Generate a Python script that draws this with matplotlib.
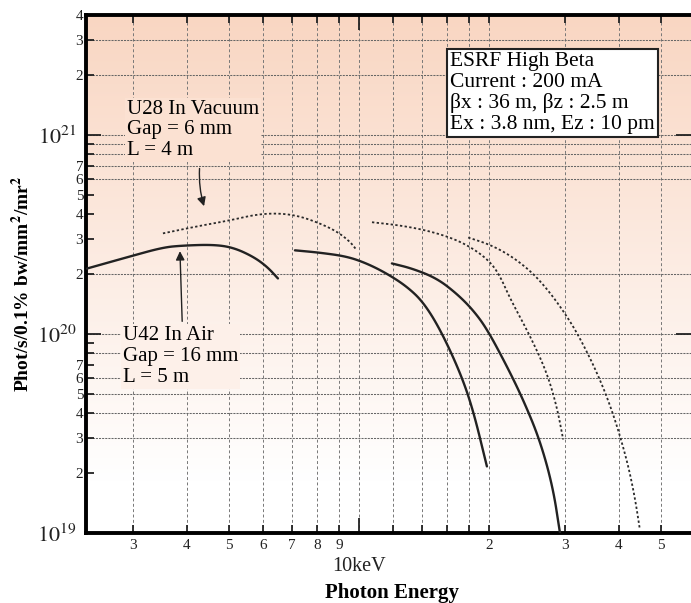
import matplotlib
matplotlib.use("Agg")
import matplotlib.pyplot as plt
from matplotlib.ticker import FixedLocator, FixedFormatter
from matplotlib.colors import LinearSegmentedColormap
import numpy as np

plt.rcParams['font.family'] = ['Liberation Serif', 'DejaVu Serif']
plt.rcParams['mathtext.fontset'] = 'stix'

# photon energy (keV) / brilliance (phot/s/0.1%bw/mm2/mr2)
u42_h1_e = [2.346, 2.951, 3.518, 3.914, 4.593, 5.108, 5.683, 6.124, 6.494]
u42_h1_b = [2.13e20, 2.45e20, 2.72e20, 2.78e20, 2.81e20, 2.72e20, 2.45e20, 2.18e20, 1.90e20]
u42_h3_e = [7.11, 8.124, 9.38, 10.43, 11.61, 12.91, 14.07, 15.4, 17.14, 18.36, 19.78]
u42_h3_b = [2.63e20, 2.56e20, 2.45e20, 2.26e20, 2.01e20, 1.73e20, 1.45e20, 1.06e20,
            6.43e19, 4.18e19, 2.16e19]
u42_h5_e = [11.92, 13.3, 15.16, 16.86, 18.36, 19.78, 22.0, 23.97, 26.2, 28.1, 29.2]
u42_h5_b = [2.26e20, 2.13e20, 1.90e20, 1.59e20, 1.32e20, 1.06e20, 6.89e19, 4.70e19,
            2.95e19, 1.71e19, 1.00e19]

u28_h1_e = [3.518, 4.217, 5.027, 5.807, 6.56, 7.302, 8.124, 8.893, 9.532, 9.89]
u28_h1_b = [3.20e20, 3.47e20, 3.72e20, 3.99e20, 4.04e20, 3.90e20, 3.59e20, 3.27e20,
            2.91e20, 2.63e20]
u28_h3_e = [10.72, 12.44, 14.37, 16.51, 18.36, 20.1, 21.2, 22.4, 24.9, 27.2, 28.7, 29.7]
u28_h3_b = [3.64e20, 3.51e20, 3.31e20, 3.02e20, 2.69e20, 2.31e20, 1.96e20, 1.50e20,
            9.77e19, 6.43e19, 4.33e19, 2.95e19]
u28_h5_e = [17.9, 20.1, 22.4, 24.9, 26.96, 29.2, 31.96, 35.56, 38.7, 41.7, 43.5, 44.7]
u28_h5_b = [3.05e20, 2.81e20, 2.48e20, 2.08e20, 1.73e20, 1.38e20, 1.02e20, 6.43e19,
            4.04e19, 2.34e19, 1.52e19, 1.04e19]

x_minor = [3, 4, 5, 6, 7, 8, 9, 12, 14, 16, 18, 20, 30, 40, 50]
x_minor_labels = ['3', '4', '5', '6', '7', '8', '9', '', '', '', '', '2', '3', '4', '5']
y_major = [1e19, 1e20, 1e21]
y_major_labels = [r'$10^{19}$', r'$10^{20}$', r'$10^{21}$']

# grid lines visible in the original scan
x_grid = [3, 4, 5, 6, 7, 8, 9, 10, 12, 14, 16, 18, 20, 30, 40, 50]
y_grid = [3e19, 4e19, 5e19, 6e19, 8e19, 1e20, 2e20, 6e20, 7e20, 8e20, 9e20, 1e21, 2e21, 3e21]

box_text = ("ESRF High Beta\nCurrent : 200 mA\n"
            "βx : 36 m, βz : 2.5 m\nEx : 3.8 nm, Ez : 10 pm")


def rounded(xs, ys, passes=3):
    # corner cutting in log space so the drawn line is smooth
    p = np.column_stack([np.log10(xs), np.log10(ys)])
    for _ in range(passes):
        q = 0.75 * p[:-1] + 0.25 * p[1:]
        r = 0.25 * p[:-1] + 0.75 * p[1:]
        mid = np.empty((2 * len(q), 2))
        mid[0::2], mid[1::2] = q, r
        p = np.vstack([p[:1], mid, p[-1:]])
    return 10**p[:, 0], 10**p[:, 1]


fig = plt.figure(figsize=(6.91, 6.03), dpi=100)
ax = fig.add_axes([0.1245, 0.1161, 0.8755, 0.859])
ax.set_xscale('log')
ax.set_yscale('log')
ax.set_xlim(2.335, 58.7)
ax.set_ylim(1e19, 4e21)

# peach-to-white background
cmap = LinearSegmentedColormap.from_list('bg', [(0, '#ffffff'), (0.1, '#ffffff'),
                                                (1, '#f9d6c2')])
grad = np.linspace(0, 1, 256).reshape(-1, 1)
ax.imshow(grad, extent=[0, 1, 0, 1], transform=ax.transAxes, cmap=cmap,
          aspect='auto', origin='lower', zorder=0)

for gx in x_grid:
    ax.axvline(gx, color='#777777', ls=(0, (3, 2.5)), lw=0.7, zorder=1)
for gy in y_grid:
    ax.axhline(gy, color='#666666', ls=(0, (2, 1)), lw=0.75, zorder=1)

for xs, ys in [(u42_h1_e, u42_h1_b), (u42_h3_e, u42_h3_b), (u42_h5_e, u42_h5_b)]:
    sx, sy = rounded(xs, ys)
    ax.plot(sx, sy, color='#222222', lw=1.7, zorder=3, solid_capstyle='round')
for xs, ys in [(u28_h1_e, u28_h1_b), (u28_h3_e, u28_h3_b), (u28_h5_e, u28_h5_b)]:
    sx, sy = rounded(xs, ys)
    ax.plot(sx, sy, color='#2a2a2a', lw=1.3, ls=(0, (1.3, 1.3)), zorder=3)

# ticks
ax.xaxis.set_major_locator(FixedLocator([10]))
ax.xaxis.set_major_formatter(FixedFormatter(['10keV']))
ax.xaxis.set_minor_locator(FixedLocator(x_minor))
ax.xaxis.set_minor_formatter(FixedFormatter(x_minor_labels))
y_minor = [m * 10.0**e for e in (19, 20, 21) for m in range(2, 10)]
y_minor_lab = [str(m) if m <= 7 else '' for e in (19, 20, 21) for m in range(2, 10)]
ax.yaxis.set_major_locator(FixedLocator(y_major))
ax.yaxis.set_major_formatter(FixedFormatter(y_major_labels))
ax.yaxis.set_minor_locator(FixedLocator(y_minor))
ax.yaxis.set_minor_formatter(FixedFormatter(y_minor_lab))

ax.tick_params(which='both', direction='in', top=True, width=1.3,
               labelsize=11, colors='#222222')
ax.tick_params(which='major', length=11)
ax.tick_params(which='minor', length=6)
ax.tick_params(axis='y', which='major', right=True, labelsize=16, pad=7)
ax.tick_params(axis='y', which='minor', right=False, pad=2)
ax.tick_params(axis='x', which='major', pad=17, labelsize=14.5)
ax.tick_params(axis='x', which='minor', pad=4)

for s in ['left', 'bottom', 'top']:
    ax.spines[s].set_linewidth(2.8)
ax.spines['right'].set_visible(False)

ax.set_xlabel('Photon Energy', fontsize=15, fontweight='bold')
ax.xaxis.label.set_va('center')
ax.xaxis.set_label_coords(0.505, -0.116)
ax.set_ylabel('Phot/s/0.1% bw/mm$^\\mathbf{2}$/mr$^\\mathbf{2}$', fontsize=14,
              fontweight='bold')
ax.yaxis.label.set_va('center')
ax.yaxis.set_label_coords(-0.106, 0.48)

ax.text(2.90, 1.50e21, 'U28 In Vacuum\nGap = 6 mm\nL = 4 m', fontsize=15,
        va='top', ha='left', linespacing=1.12, zorder=4,
        bbox=dict(boxstyle='square,pad=0.1', fc='#fbe1d2', ec='none'))
ax.text(2.84, 1.09e20, 'U42 In Air\nGap = 16 mm\nL = 5 m', fontsize=15,
        va='top', ha='left', linespacing=1.12, zorder=4,
        bbox=dict(boxstyle='square,pad=0.1', fc='#fdf0e9', ec='none'))
ax.annotate('', xy=(4.40, 4.25e20), xytext=(4.28, 7.0e20),
            arrowprops=dict(arrowstyle='-|>', color='#222222', lw=1,
                            mutation_scale=13, connectionstyle='arc3,rad=0.1'))
ax.annotate('', xy=(3.85, 2.69e20), xytext=(3.90, 1.12e20),
            arrowprops=dict(arrowstyle='-|>', color='#222222', lw=1,
                            mutation_scale=13))

ax.text(0.6017, 0.928, box_text, transform=ax.transAxes, fontsize=15.5,
        va='top', ha='left', linespacing=1.1, zorder=5,
        bbox=dict(boxstyle='square,pad=0.15', fc='white', ec='#222222', lw=1.5))

fig.savefig('out.png', dpi=100)
